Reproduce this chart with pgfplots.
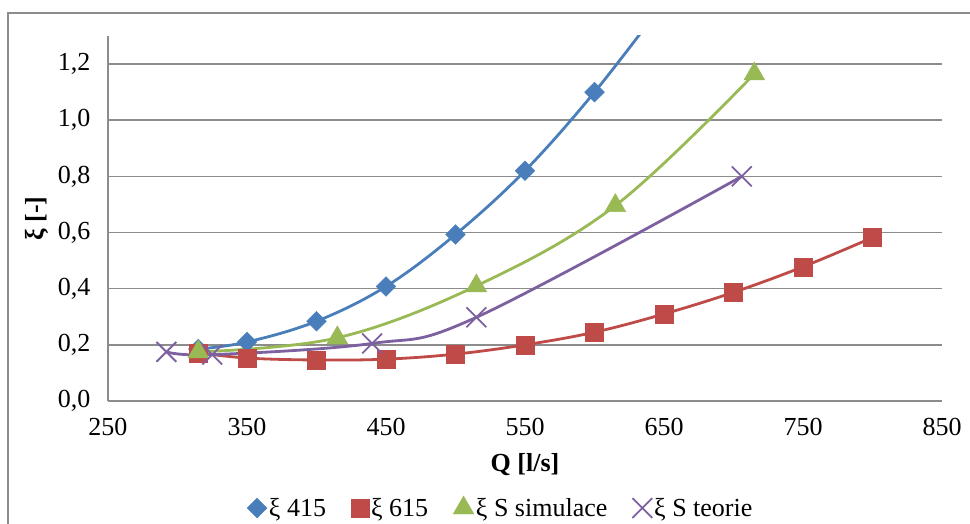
\documentclass[border=0pt]{standalone}
\usepackage{fontspec}
\setmainfont{Liberation Serif}
\usepackage{pgfplots}
\pgfplotsset{compat=1.18}
\definecolor{cblue}{HTML}{4A7EBB}
\definecolor{cred}{HTML}{BE4B48}
\definecolor{cgreen}{HTML}{98B954}
\definecolor{cpurple}{HTML}{7D60A0}
\definecolor{gridc}{HTML}{8C8C8C}
\newcommand{\bigfont}{\fontsize{26}{31}\selectfont}
\begin{document}
\begin{tikzpicture}[x=1pt,y=1pt]
\useasboundingbox (0,0) rectangle (970,524);
\draw[gridc, line width=1.6pt] (8,-2) -- (8,511) -- (972,511);
\begin{axis}[
  at={(108pt,123pt)}, anchor=south west,
  scale only axis, width=834pt, height=365pt,
  xmin=250, xmax=850, ymin=0, ymax=1.3,
  xtick={250,350,450,550,650,750,850},
  ytick={0,0.2,0.4,0.6,0.8,1.0,1.2},
  axis x line*=bottom, axis y line*=left,
  axis line style={gridc, line width=1.8pt, -},
  major tick length=0pt,
  ymajorgrids, grid style={gridc, line width=1.6pt},
  tick label style={font=\bigfont},
  /pgf/number format/assume math mode=true,
  yticklabel style={xshift=-14pt, /pgf/number format/.cd, use comma, fixed, fixed zerofill, precision=1},
  xticklabel style={yshift=-14pt, /pgf/number format/.cd, 1000 sep={}},
  xlabel={\textbf{Q [l/s]}},
  ylabel={\textbf{ξ [-]}},
  label style={font=\bigfont},
  x label style={at={(axis description cs:0.5,-0.1753)}, anchor=center},
  y label style={at={(axis description cs:-0.0851,0.5)}, anchor=center, rotate=0},
  legend style={at={(axis description cs:0.471,-0.293)}, anchor=center, draw=none, fill=none,
    legend columns=4, font=\bigfont, inner sep=0pt,
    /tikz/every even column/.append style={column sep=23pt}},
  legend image code/.code={\draw[mark repeat=2,mark phase=2,#1] plot coordinates {(0pt,0pt)(10pt,0pt)(20pt,0pt)};},
]
% smooth lines
\addplot[cblue, line width=2.8pt, smooth, tension=0.6, forget plot] coordinates {(315,0.185)(350,0.21)(400,0.284)(450,0.408)(500,0.593)(550,0.82)(600,1.10)(650,1.42)};
\addplot[cred, line width=2.8pt, smooth, tension=0.6, forget plot] coordinates {(315,0.172)(350,0.153)(400,0.146)(450,0.149)(500,0.167)(550,0.20)(600,0.245)(650,0.31)(700,0.387)(750,0.478)(800,0.582)};
\addplot[cgreen, line width=2.8pt, smooth, tension=0.6, forget plot] coordinates {(315,0.175)(415,0.225)(515,0.41)(615,0.696)(715,1.165)};
\addplot[cpurple, line width=2.8pt, smooth, tension=0.6, forget plot] coordinates {(292,0.175)(325,0.165)(440,0.205)(515,0.298)(706,0.80)};
% markers
\addplot[only marks, mark=square*, mark size=7pt, mark options={rotate=45, draw=cblue, fill=cblue}] coordinates {(315,0.185)(350,0.21)(400,0.284)(450,0.408)(500,0.593)(550,0.82)(600,1.10)};
\addlegendentry{ξ 415}
\addplot[only marks, mark=square*, mark size=9pt, mark options={draw=cred, fill=cred}] coordinates {(315,0.172)(350,0.153)(400,0.146)(450,0.149)(500,0.167)(550,0.20)(600,0.245)(650,0.31)(700,0.387)(750,0.478)(800,0.582)};
\addlegendentry{ξ 615}
\addplot[only marks, mark=triangle*, mark size=12pt, mark options={draw=cgreen, fill=cgreen}] coordinates {(315,0.175)(415,0.225)(515,0.41)(615,0.696)(715,1.165)};
\addlegendentry{ξ S simulace}
\addplot[only marks, mark=x, mark size=14pt, mark options={draw=cpurple, line width=1.8pt}] coordinates {(292,0.175)(325,0.165)(440,0.205)(515,0.298)(706,0.80)};
\addlegendentry{ξ S teorie}
\end{axis}
\end{tikzpicture}
\end{document}
